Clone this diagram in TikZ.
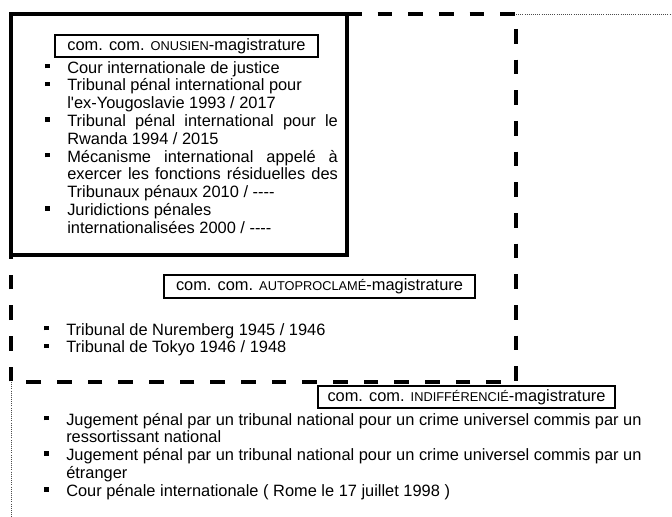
\documentclass[tikz,border=0pt]{standalone}
\usepackage{fontspec}
\setmainfont{Liberation Sans}[Ligatures=TeXOff]
\newcommand{\pc}[1]{{\fontsize{9.6pt}{10pt}\selectfont #1}}
\newcommand{\puce}{\makebox[16.5pt][l]{\rule[3.5pt]{3.4pt}{3.4pt}}}
\newcommand{\suite}{\hspace*{16.5pt}}
\newcommand{\just}[1]{\makebox[203pt][s]{#1}}
\begin{document}
\begin{tikzpicture}[x=0.75pt,y=-0.75pt,line join=miter,
	etiquette/.style={draw,line width=1pt,inner sep=0pt,font=\fontsize{12.3pt}{13pt}\selectfont},
	liste/.style={anchor=base west,inner sep=0pt,align=left,font=\fontsize{12.3pt}{13.35pt}\selectfont}]
	  \useasboundingbox (0,0) rectangle (672,517);
	  \foreach \x/\y/\z in {11/14/A,347/14/B,347/255/C,11/255/D,516/14/E,516/382/F,11/382/G,672/14/H,11/517/K}{
	      \path (\x,\y) coordinate (\z);
	  }
	  \draw[densely dotted,line width=0.6pt,black!70] (E)--(H) (G)--(K);
	  \draw[line width=3pt,dash pattern=on 11pt off 12pt] (B)--(E)--(F)--(G)--(D);
	  \draw[line width=2.6pt] (A)--(B)--(C)--(D)--cycle;
	  \node[etiquette,minimum width=197.25pt,minimum height=16.5pt] (onu) at (186.5,46) {com. com. \pc{ONUSIEN}-magistrature};
	  \node[etiquette,minimum width=233.25pt,minimum height=17.25pt] (auto) at (319.5,286.5) {com. com. \pc{AUTOPROCLAMÉ}-magistrature};
	  \node[etiquette,minimum width=222.75pt,minimum height=16.5pt] (indif) at (466.5,397) {com. com. \pc{INDIFFÉRENCIÉ}-magistrature};
	  \node[liste] (onuliste) at (45,233.2) {\puce Cour internationale de justice\\
	  	\puce Tribunal pénal international pour\\
	  	\suite l'ex-Yougoslavie 1993 / 2017\\
	  	\puce \just{Tribunal pénal international pour le}\\
	  	\suite Rwanda 1994 / 2015\\
	  	\puce \just{Mécanisme international appelé à}\\
	  	\suite \just{exercer les fonctions résiduelles des}\\
	  	\suite Tribunaux pénaux 2010 / ----\\
	  	\puce Juridictions pénales\\
	  	\suite internationalisées 2000 / ----};
	  \node[liste] (autoliste) at (44,352.8) {\puce Tribunal de Nuremberg 1945 / 1946\\
	  	\puce Tribunal de Tokyo 1946 / 1948};
	  \node[liste] (indifliste) at (44,496.2) {\puce Jugement pénal par un tribunal national pour un crime universel commis par un\\
	  	\suite ressortissant national\\
	  	\puce Jugement pénal par un tribunal national pour un crime universel commis par un\\
	  	\suite étranger\\
	  	\puce Cour pénale internationale ( Rome le 17 juillet 1998 )};
\end{tikzpicture}
\end{document}
